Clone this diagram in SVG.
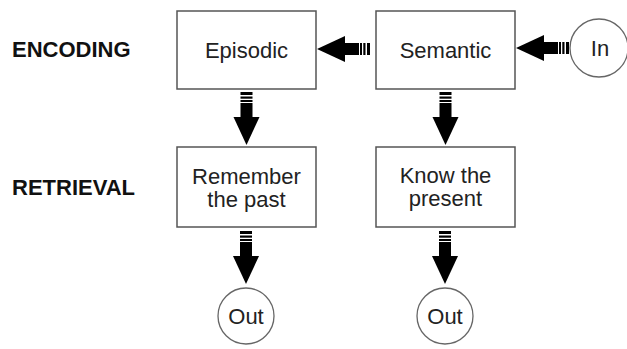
<svg xmlns="http://www.w3.org/2000/svg" xmlns:xlink="http://www.w3.org/1999/xlink" width="627" height="349" viewBox="0 0 627 349">
<style>
.box{fill:#fff;stroke:#555;stroke-width:1.5}
.circ{fill:#fff;stroke:#666;stroke-width:1.3}
.t{font-family:"Liberation Sans",Arial,sans-serif;font-size:22px;fill:#222;text-anchor:middle}
.lbl{font-family:"Liberation Sans",Arial,sans-serif;font-size:22px;font-weight:bold;fill:#111}
</style>
<defs>
<g id="arr" fill="#000">
<polygon points="0,0 -13,-28 13,-28"/>
<rect x="-6" y="-42" width="12" height="14.5"/>
<rect x="-6" y="-45" width="12" height="2"/>
<rect x="-6" y="-48.5" width="12" height="2.2"/>
<rect x="-6" y="-53" width="12" height="3"/>
</g>
</defs>
<rect width="627" height="349" fill="#fff"/>
<text class="lbl" x="12" y="57">ENCODING</text>
<text class="lbl" x="12" y="195">RETRIEVAL</text>
<g id="episodic"><rect class="box" x="177" y="11" width="139" height="78"/><text class="t" x="246.5" y="58">Episodic</text></g>
<g id="semantic"><rect class="box" x="376" y="11" width="139" height="78"/><text class="t" x="445.5" y="58">Semantic</text></g>
<g id="in"><circle class="circ" cx="599" cy="48" r="29"/><text class="t" x="600" y="56">In</text></g>
<g id="remember"><rect class="box" x="177" y="147" width="139" height="80"/><text class="t" x="246.5" y="184">Remember</text><text class="t" x="246.5" y="207">the past</text></g>
<g id="know"><rect class="box" x="376" y="147" width="139" height="80"/><text class="t" x="445.5" y="183">Know the</text><text class="t" x="445.5" y="206">present</text></g>
<g id="out1"><circle class="circ" cx="246" cy="316" r="28"/><text class="t" x="246" y="324">Out</text></g>
<g id="out2"><circle class="circ" cx="445" cy="316" r="28"/><text class="t" x="445" y="324">Out</text></g>
<g id="connectors">
<use xlink:href="#arr" transform="translate(317,49) rotate(90)"/>
<use xlink:href="#arr" transform="translate(516,48) rotate(90)"/>
<use xlink:href="#arr" transform="translate(246.5,145)"/>
<use xlink:href="#arr" transform="translate(445.5,145)"/>
<use xlink:href="#arr" transform="translate(246,284)"/>
<use xlink:href="#arr" transform="translate(445,284)"/>
</g>
</svg>
